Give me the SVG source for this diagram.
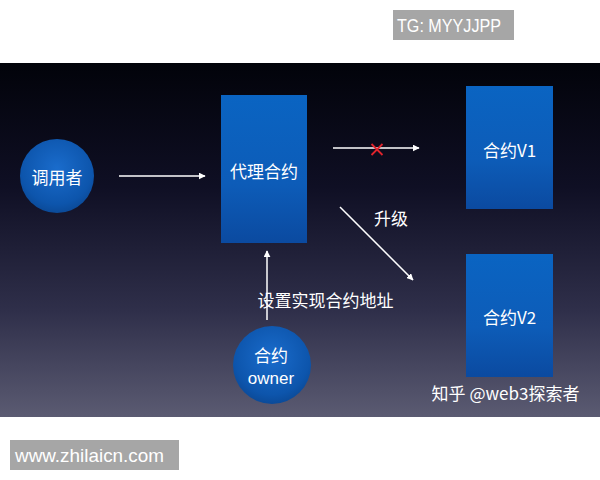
<svg xmlns="http://www.w3.org/2000/svg" width="600" height="480" viewBox="0 0 600 480">
<defs>
<linearGradient id="bg" x1="0" y1="0" x2="0" y2="1">
<stop offset="0" stop-color="#02030a"/>
<stop offset="0.35" stop-color="#0f0f24"/>
<stop offset="0.7" stop-color="#2f2f4a"/>
<stop offset="1" stop-color="#5b5b72"/>
</linearGradient>
<linearGradient id="box" x1="0" y1="0" x2="0" y2="1">
<stop offset="0" stop-color="#0a64c2"/>
<stop offset="0.6" stop-color="#0d5cb8"/>
<stop offset="1" stop-color="#0b4aa0"/>
</linearGradient>
<radialGradient id="ball" cx="0.5" cy="0.4" r="0.6">
<stop offset="0" stop-color="#1a6ccc"/>
<stop offset="0.8" stop-color="#0d55ac"/>
<stop offset="1" stop-color="#0b4a98"/>
</radialGradient>
<marker id="ah" viewBox="0 0 10 10" refX="9" refY="5" markerWidth="7" markerHeight="7" markerUnits="userSpaceOnUse" orient="auto">
<path d="M0,0 L10,5 L0,10 z" fill="#ffffff"/>
</marker>
<style>
.lbl{font-family:"Noto Sans CJK SC","Liberation Sans",sans-serif;fill:#ffffff;font-size:17px;text-anchor:middle;dominant-baseline:central}
.lat{font-family:"Liberation Sans","Noto Sans CJK SC",sans-serif;fill:#ffffff;font-size:17px;text-anchor:middle}
.wm{font-family:"Liberation Sans","Noto Sans CJK SC",sans-serif;fill:#ffffff;font-size:19px}
.ln{stroke:#ffffff;stroke-width:1.5;fill:none;marker-end:url(#ah)}
</style>
</defs>
<rect x="0" y="0" width="600" height="480" fill="#ffffff"/>
<rect x="0" y="63" width="600" height="354" fill="url(#bg)"/>
<g id="watermark-tg">
<rect x="393" y="10" width="121" height="30" fill="#a6a6a6"/>
<text class="wm" x="397" y="32" textLength="104" lengthAdjust="spacingAndGlyphs">TG: MYYJJPP</text>
</g>
<g id="watermark-site">
<rect x="10" y="440" width="169" height="30" fill="#a6a6a6"/>
<text class="wm" x="15" y="462" textLength="149" lengthAdjust="spacingAndGlyphs">www.zhilaicn.com</text>
</g>
<g id="caller">
<circle cx="57" cy="176" r="37" fill="url(#ball)"/>
<text class="lbl" x="57" y="176">调用者</text>
</g>
<g id="proxy">
<rect x="221" y="95" width="86" height="148" fill="url(#box)"/>
<text class="lbl" x="264" y="170">代理合约</text>
</g>
<g id="v1">
<rect x="466" y="86" width="87" height="123" fill="url(#box)"/>
<text class="lbl" x="509.5" y="149">合约V1</text>
</g>
<g id="v2">
<rect x="466" y="254" width="87" height="123" fill="url(#box)"/>
<text class="lbl" x="509.5" y="316">合约V2</text>
</g>
<g id="owner">
<circle cx="272" cy="365" r="39" fill="url(#ball)"/>
<text class="lbl" x="271" y="354" font-size="16">合约</text>
<text class="lat" x="271" y="384">owner</text>
</g>
<g id="connectors">
<line class="ln" x1="119" y1="176" x2="205" y2="176"/>
<line class="ln" x1="333" y1="148" x2="419" y2="148"/>
<path d="M371.5,144 L382.5,155 M382.5,144 L371.5,155" stroke="#e0242c" stroke-width="1.8" fill="none"/>
<line class="ln" x1="340" y1="207" x2="413" y2="280"/>
<line class="ln" x1="267" y1="320" x2="267" y2="251"/>
<text class="lbl" x="391" y="217">升级</text>
<text class="lbl" x="325.5" y="299">设置实现合约地址</text>
</g>
<text class="lbl" x="505.5" y="392">知乎 @web3探索者</text>
</svg>
